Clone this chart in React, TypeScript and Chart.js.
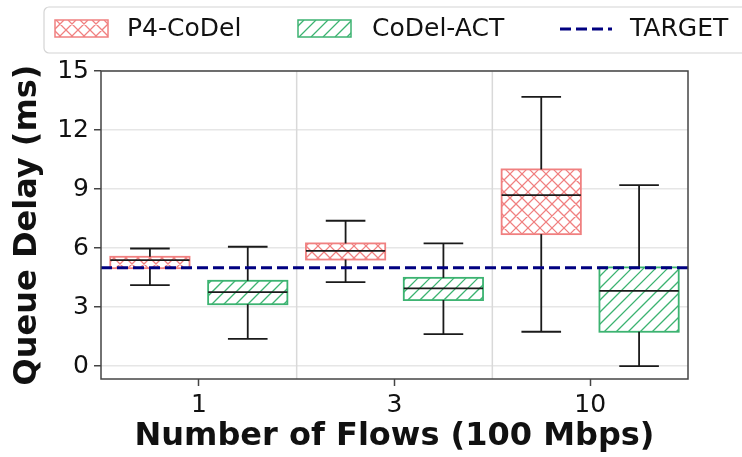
import React, { useEffect, useRef } from 'react';
import { Chart, registerables } from 'chart.js';

Chart.register(...registerables);

const categories = ['1', '3', '10'];
const p4Low = [4.12, 4.27, 1.75];
const p4Q1 = [4.98, 5.42, 6.71];
const p4Median = [5.39, 5.86, 8.69];
const p4Q3 = [5.56, 6.24, 10.0];
const p4High = [5.98, 7.39, 13.69];
const actLow = [1.39, 1.63, 0.0];
const actQ1 = [3.15, 3.36, 1.75];
const actMedian = [3.76, 3.95, 3.83];
const actQ3 = [4.34, 4.49, 5.02];
const actHigh = [6.07, 6.24, 9.2];
const targetValue = 5;
const yTicks = [0, 3, 6, 9, 12, 15];
const seriesNames = ['P4-CoDel', 'CoDel-ACT'];
const targetName = 'TARGET';

const P4_COLOR = '#f08080';
const ACT_COLOR = '#3cb371';
const TARGET_COLOR = '#000080';
const FONT = "'DejaVu Sans', sans-serif";
const HATCH_KINDS: Array<'x' | '/'> = ['x', '/'];
const COLORS = [P4_COLOR, ACT_COLOR];

function drawHatch(ctx: CanvasRenderingContext2D, x: number, y: number, w: number, h: number, color: string, kind: 'x' | '/', step = 12) {
  ctx.save();
  ctx.beginPath();
  ctx.rect(x, y, w, h);
  ctx.clip();
  ctx.strokeStyle = color;
  ctx.lineWidth = 1.3;
  ctx.beginPath();
  const span = w + h;
  // "/" lines: go from bottom-left to top-right
  const start = Math.floor((x + y) / step) * step - step;
  for (let s = start; s <= x + y + span + step; s += step) {
    // line x + y = s
    ctx.moveTo(s - (y + h), y + h);
    ctx.lineTo(s - y, y);
  }
  if (kind === 'x') {
    const start2 = Math.floor((x - y - h) / step) * step - step;
    for (let d = start2; d <= x + w - y + step; d += step) {
      // line x - y = d
      ctx.moveTo(d + y, y);
      ctx.lineTo(d + y + h, y + h);
    }
  }
  ctx.stroke();
  ctx.restore();
}

export default function App() {
  const ref = useRef<HTMLCanvasElement | null>(null);

  useEffect(() => {
    if (!ref.current) return;
    const stats = [
      { low: p4Low, q1: p4Q1, med: p4Median, q3: p4Q3, high: p4High },
      { low: actLow, q1: actQ1, med: actMedian, q3: actQ3, high: actHigh },
    ];

    const boxPlugin = {
      id: 'boxExtras',
      beforeDatasetsDraw(chart: any) {
        const ctx = chart.ctx;
        const xs = chart.scales.x;
        const area = chart.chartArea;
        ctx.save();
        ctx.strokeStyle = '#d9d9d9';
        ctx.lineWidth = 1.5;
        for (let i = 0; i < categories.length - 1; i++) {
          const x = (xs.getPixelForValue(i) + xs.getPixelForValue(i + 1)) / 2;
          ctx.beginPath();
          ctx.moveTo(x, area.top);
          ctx.lineTo(x, area.bottom);
          ctx.stroke();
        }
        ctx.restore();
      },
      afterDatasetsDraw(chart: any) {
        const ctx = chart.ctx;
        const ys = chart.scales.y;
        const area = chart.chartArea;
        const line = (x1: number, y1: number, x2: number, y2: number) => {
          ctx.beginPath();
          ctx.moveTo(x1, y1);
          ctx.lineTo(x2, y2);
          ctx.stroke();
        };
        ctx.save();
        stats.forEach((s, di) => {
          const meta = chart.getDatasetMeta(di);
          meta.data.forEach((bar: any, i: number) => {
            const { x, width } = bar.getProps(['x', 'width'], true);
            const yMed = ys.getPixelForValue(s.med[i]);
            const yQ1 = ys.getPixelForValue(s.q1[i]);
            const yQ3 = ys.getPixelForValue(s.q3[i]);
            const yLo = ys.getPixelForValue(s.low[i]);
            const yHi = ys.getPixelForValue(s.high[i]);
            // hatch inside box
            drawHatch(ctx, x - width / 2, yQ3, width, yQ1 - yQ3, COLORS[di], HATCH_KINDS[di]);
            ctx.strokeStyle = COLORS[di];
            ctx.lineWidth = 1.8;
            ctx.strokeRect(x - width / 2, yQ3, width, yQ1 - yQ3);
            ctx.strokeStyle = '#1a1a1a';
            ctx.lineWidth = 1.8;
            line(x - width / 2, yMed, x + width / 2, yMed);
            line(x, yQ3, x, yHi);
            line(x, yQ1, x, yLo);
            line(x - width / 4, yHi, x + width / 4, yHi);
            line(x - width / 4, yLo, x + width / 4, yLo);
          });
        });
        // target line
        const yt = ys.getPixelForValue(targetValue);
        ctx.strokeStyle = TARGET_COLOR;
        ctx.lineWidth = 3;
        ctx.setLineDash([11, 5]);
        line(area.left, yt, area.right, yt);
        ctx.restore();
      },
      afterDraw(chart: any) {
        const ctx = chart.ctx;
        const area = chart.chartArea;
        ctx.save();
        // frame
        ctx.strokeStyle = '#444';
        ctx.lineWidth = 1.5;
        ctx.strokeRect(area.left, area.top, area.right - area.left, area.bottom - area.top);
        // legend
        const lx = 44, ly = 7, lw = 720, lh = 46, r = 5;
        ctx.beginPath();
        ctx.moveTo(lx + r, ly);
        ctx.lineTo(lx + lw - r, ly);
        ctx.arcTo(lx + lw, ly, lx + lw, ly + r, r);
        ctx.lineTo(lx + lw, ly + lh - r);
        ctx.arcTo(lx + lw, ly + lh, lx + lw - r, ly + lh, r);
        ctx.lineTo(lx + r, ly + lh);
        ctx.arcTo(lx, ly + lh, lx, ly + lh - r, r);
        ctx.lineTo(lx, ly + r);
        ctx.arcTo(lx, ly, lx + r, ly, r);
        ctx.closePath();
        ctx.fillStyle = 'rgba(255,255,255,0.9)';
        ctx.fill();
        ctx.strokeStyle = '#d4d4d4';
        ctx.lineWidth = 1.2;
        ctx.stroke();

        const cy = 29;
        ctx.font = `25px ${FONT}`;
        ctx.textBaseline = 'middle';
        ctx.textAlign = 'left';
        // P4 patch
        ctx.fillStyle = '#fff';
        ctx.fillRect(55, 20, 53, 17);
        drawHatch(ctx, 55, 20, 53, 17, P4_COLOR, 'x');
        ctx.strokeStyle = P4_COLOR;
        ctx.lineWidth = 1.5;
        ctx.strokeRect(55, 20, 53, 17);
        ctx.fillStyle = '#111';
        ctx.fillText(seriesNames[0], 127, cy);
        // ACT patch
        ctx.fillStyle = '#fff';
        ctx.fillRect(298, 20, 53, 17);
        drawHatch(ctx, 298, 20, 53, 17, ACT_COLOR, '/');
        ctx.strokeStyle = ACT_COLOR;
        ctx.lineWidth = 1.5;
        ctx.strokeRect(298, 20, 53, 17);
        ctx.fillStyle = '#111';
        ctx.fillText(seriesNames[1], 372, cy);
        // target
        ctx.strokeStyle = TARGET_COLOR;
        ctx.lineWidth = 3;
        ctx.setLineDash([11, 5]);
        ctx.beginPath();
        ctx.moveTo(560, cy);
        ctx.lineTo(612, cy);
        ctx.stroke();
        ctx.setLineDash([]);
        ctx.fillStyle = '#111';
        ctx.fillText(targetName, 630, cy);
        ctx.restore();
      },
    };

    const chart = new Chart(ref.current, {
      type: 'bar',
      data: {
        labels: categories,
        datasets: [
          {
            label: seriesNames[0],
            data: p4Q1.map((v, i) => [v, p4Q3[i]]) as any,
            backgroundColor: '#ffffff',
            borderColor: P4_COLOR,
            borderWidth: 0,
            borderSkipped: false,
            barPercentage: 0.81,
            categoryPercentage: 1.0,
          },
          {
            label: seriesNames[1],
            data: actQ1.map((v, i) => [v, actQ3[i]]) as any,
            backgroundColor: '#ffffff',
            borderColor: ACT_COLOR,
            borderWidth: 0,
            borderSkipped: false,
            barPercentage: 0.81,
            categoryPercentage: 1.0,
          },
        ],
      },
      options: {
        animation: false,
        responsive: true,
        maintainAspectRatio: false,
        layout: { padding: { top: 71, right: 54, left: 0, bottom: 0 } },
        plugins: {
          legend: { display: false },
          tooltip: { enabled: false },
        },
        scales: {
          x: {
            type: 'category',
            offset: true,
            afterFit: (scale: any) => {
              scale.height = 78;
            },
            grid: {
              offset: false,
              drawOnChartArea: false,
              drawTicks: true,
              tickLength: 7,
              tickColor: '#444',
              tickWidth: 1.5,
            },
            border: { display: false },
            ticks: {
              color: '#111',
              font: { family: FONT, size: 25 },
              padding: 4,
            },
            title: {
              display: true,
              text: 'Number of Flows (100 Mbps)',
              color: '#111',
              font: { family: FONT, size: 32, weight: 'bold' },
              padding: { top: 0, bottom: 1 },
            },
          },
          y: {
            type: 'linear',
            min: -0.65,
            max: 15,
            afterFit: (scale: any) => {
              scale.width = 101;
            },
            afterBuildTicks: (scale: any) => {
              scale.ticks = yTicks.map((v) => ({ value: v }));
            },
            grid: {
              color: '#e6e6e6',
              lineWidth: 1.5,
              tickLength: 7,
              tickColor: '#444',
              tickWidth: 1.5,
            },
            border: { display: false },
            ticks: {
              color: '#111',
              font: { family: FONT, size: 25 },
              padding: 5,
              callback: (v: any) => String(v),
            },
            title: {
              display: true,
              text: 'Queue Delay (ms)',
              color: '#111',
              font: { family: FONT, size: 32, weight: 'bold' },
              padding: { top: 8, bottom: 0 },
            },
          },
        },
      },
      plugins: [boxPlugin],
    });
    return () => chart.destroy();
  }, []);

  return (
    <div style={{ position: 'fixed', left: 0, top: 0, width: 742, height: 457, background: '#fff' }}>
      <canvas ref={ref} />
    </div>
  );
}
